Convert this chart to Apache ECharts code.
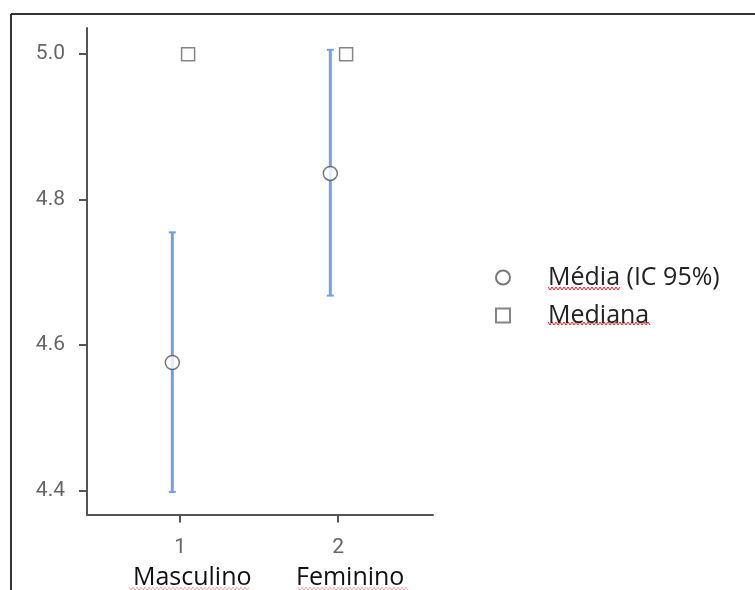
<!DOCTYPE html>
<html><head><meta charset="utf-8">
<script src="https://cdn.jsdelivr.net/npm/echarts@6/dist/echarts.min.js"></script>
<style>html,body{margin:0;padding:0;background:#fff}#c{width:755px;height:590px}</style>
</head><body><div id="c"></div>
<script>
const categories = ['Masculino', 'Feminino'];
const categoryCodes = [1, 2];
const meanValues = [4.576, 4.836];
const ciLower = [4.398, 4.668];
const ciUpper = [4.755, 5.006];
const medianValues = [5.0, 5.0];
const yTicks = [4.4, 4.6, 4.8, 5.0];
const seriesNames = ['Média (IC 95%)', 'Mediana'];

const OFF = 0.05;
const meanData = categoryCodes.map((c, i) => [c - OFF, meanValues[i]]);
const medianData = categoryCodes.map((c, i) => [c + OFF, medianValues[i]]);
const ciData = categoryCodes.map((c, i) => [c - OFF, ciLower[i], ciUpper[i]]);

const chart = echarts.init(document.getElementById('c'));

function wavy(x0, x1, y, op) {
  const pts = [];
  let up = true;
  for (let x = x0; x <= x1; x += 2) { pts.push([x, up ? y : y + 3]); up = !up; }
  return { type: 'polyline', shape: { points: pts }, style: { stroke: '#e02020', lineWidth: 1, fill: null, opacity: op || 1 }, silent: true };
}

chart.setOption({
  animation: false,
  grid: { left: 87, top: 28, width: 346, height: 488, containLabel: false },
  xAxis: {
    type: 'value', min: 0.41, max: 2.6,
    splitLine: { show: false },
    axisLine: { lineStyle: { color: '#555', width: 2 } },
    axisTick: { customValues: categoryCodes, length: 8, lineStyle: { color: '#555', width: 2 } },
    axisLabel: {
      customValues: categoryCodes, margin: 18,
      formatter: v => '{n|' + v + '}\n{c|' + categories[categoryCodes.indexOf(v)] + '}',
      rich: {
        n: { fontFamily: 'Roboto', fontSize: 21, color: '#666', lineHeight: 30 },
        c: { fontFamily: 'Open Sans', fontSize: 25, color: '#111', lineHeight: 30, padding: [0, 0, 0, 24] }
      }
    }
  },
  yAxis: {
    type: 'value', min: 4.367, max: 5.036,
    splitLine: { show: false },
    axisLine: { show: true, lineStyle: { color: '#555', width: 2 } },
    axisTick: { show: true, customValues: yTicks, length: 8, lineStyle: { color: '#555', width: 2 } },
    axisLabel: { customValues: yTicks, margin: 22, formatter: v => v.toFixed(1), fontFamily: 'Roboto', fontSize: 21, color: '#666' }
  },
  legend: {
    orient: 'vertical', left: 490, top: 260, itemGap: 13,
    itemWidth: 14, itemHeight: 14,
    textStyle: { fontFamily: 'Open Sans', fontSize: 25, lineHeight: 22, color: '#222', padding: [0, 0, 0, 33] },
    data: [{ name: seriesNames[0], icon: 'circle' }, { name: seriesNames[1], icon: 'rect' }]
  },
  series: [
    {
      type: 'custom', name: 'ci', data: ciData, z: 2,
      renderItem: (params, api) => {
        const x = api.coord([api.value(0), api.value(1)])[0];
        const lo = api.coord([api.value(0), api.value(1)])[1];
        const hi = api.coord([api.value(0), api.value(2)])[1];
        const st = { stroke: '#6f9fef', lineWidth: 3 };
        return { type: 'group', children: [
          { type: 'line', shape: { x1: x, y1: lo, x2: x, y2: hi }, style: st },
          { type: 'line', shape: { x1: x - 3.5, y1: lo, x2: x + 3.5, y2: lo }, style: { stroke: '#6f9fef', lineWidth: 2 } },
          { type: 'line', shape: { x1: x - 3.5, y1: hi, x2: x + 3.5, y2: hi }, style: { stroke: '#6f9fef', lineWidth: 2 } }
        ] };
      }
    },
    {
      type: 'scatter', name: seriesNames[0], data: meanData, symbol: 'circle', symbolSize: 14, z: 5,
      itemStyle: { color: '#fff', borderColor: '#555', borderWidth: 1.5 }
    },
    {
      type: 'scatter', name: seriesNames[1], data: medianData, symbol: 'rect', symbolSize: 13, z: 5,
      itemStyle: { color: '#fff', borderColor: '#666', borderWidth: 1.5 }
    }
  ],
  graphic: [
    { type: 'line', shape: { x1: 11, y1: 14, x2: 755, y2: 14 }, style: { stroke: '#333', lineWidth: 2 }, silent: true },
    { type: 'line', shape: { x1: 11, y1: 14, x2: 11, y2: 590 }, style: { stroke: '#333', lineWidth: 2 }, silent: true },
    wavy(548, 621, 287),
    wavy(548, 650, 322),
    wavy(129, 250, 587, 0.35),
    wavy(298, 408, 587, 0.35)
  ]
});
</script></body></html>
